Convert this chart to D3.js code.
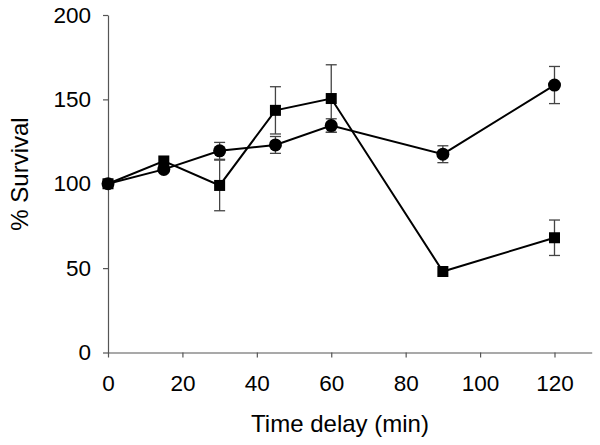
<!DOCTYPE html>
<html><head><meta charset="utf-8">
<script src="https://cdn.jsdelivr.net/npm/d3@7"></script>
<style>body{margin:0;background:#fff}svg{display:block}</style>
</head><body><svg id="c" width="600" height="445"></svg>
<script>
const times = [0, 15, 30, 45, 60, 90, 120];
const circleVals = [100, 108.5, 119.5, 123, 134.5, 117.5, 158.5];
const circleErr  = [0, 0, 5, 5, 4, 5, 11];
const squareVals = [100, 113.5, 99, 143.5, 150.5, 48, 68];
const squareErr  = [0, 0, 15, 14, 20, 0, 10.5];
const xTicks = [0, 20, 40, 60, 80, 100, 120];
const yTicks = [0, 50, 100, 150, 200];

const svg = d3.select("#c");
const x = d3.scaleLinear().domain([0, 130]).range([108, 591.7]);
const y = d3.scaleLinear().domain([0, 200]).range([352.5, 15]);
const font = "Liberation Sans, Arial, sans-serif";
const axisCol = "#555";

// axes
const xa = svg.append("g").attr("transform", `translate(0,${y(0)})`)
  .call(d3.axisBottom(x).tickValues(xTicks).tickSize(5).tickPadding(18).tickSizeOuter(0));
const ya = svg.append("g").attr("transform", `translate(${x(0)},0)`)
  .call(d3.axisLeft(y).tickValues(yTicks).tickSize(5).tickPadding(12).tickSizeOuter(0));
[xa, ya].forEach(a => {
  a.select(".domain").attr("stroke", axisCol).attr("stroke-width", 1.2);
  a.selectAll(".tick line").attr("stroke", axisCol).attr("stroke-width", 1.2);
  a.selectAll(".tick text").attr("fill", "#000").attr("font-family", font).attr("font-size", 22.5);
});

svg.append("text").attr("x", 340).attr("y", 432).attr("text-anchor", "middle")
  .attr("font-family", font).attr("font-size", 24).text("Time delay (min)");
svg.append("text").attr("transform", `translate(28,174) rotate(-90)`).attr("text-anchor", "middle")
  .attr("font-family", font).attr("font-size", 24).text("% Survival");

const line = d3.line().x(d => x(d[0])).y(d => y(d[1]));

function errBars(vals, errs) {
  const g = svg.append("g").attr("stroke", "#444").attr("stroke-width", 1.3);
  times.forEach((t, i) => {
    if (!errs[i]) return;
    const cx = x(t), y1 = y(vals[i] + errs[i]), y2 = y(vals[i] - errs[i]);
    g.append("line").attr("x1", cx).attr("x2", cx).attr("y1", y1).attr("y2", y2);
    g.append("line").attr("x1", cx - 5.5).attr("x2", cx + 5.5).attr("y1", y1).attr("y2", y1);
    g.append("line").attr("x1", cx - 5.5).attr("x2", cx + 5.5).attr("y1", y2).attr("y2", y2);
  });
}
errBars(squareVals, squareErr);
errBars(circleVals, circleErr);

svg.append("path").datum(times.map((t, i) => [t, squareVals[i]]))
  .attr("d", line).attr("fill", "none").attr("stroke", "#000").attr("stroke-width", 2);
svg.append("path").datum(times.map((t, i) => [t, circleVals[i]]))
  .attr("d", line).attr("fill", "none").attr("stroke", "#000").attr("stroke-width", 2);

svg.append("g").selectAll("rect").data(times.map((t, i) => [t, squareVals[i]])).join("rect")
  .attr("x", d => x(d[0]) - 5.5).attr("y", d => y(d[1]) - 5.5).attr("width", 11).attr("height", 11).attr("fill", "#000");
svg.append("g").selectAll("circle").data(times.map((t, i) => [t, circleVals[i]])).join("circle")
  .attr("cx", d => x(d[0])).attr("cy", d => y(d[1])).attr("r", 6.5).attr("fill", "#000");
</script></body></html>
